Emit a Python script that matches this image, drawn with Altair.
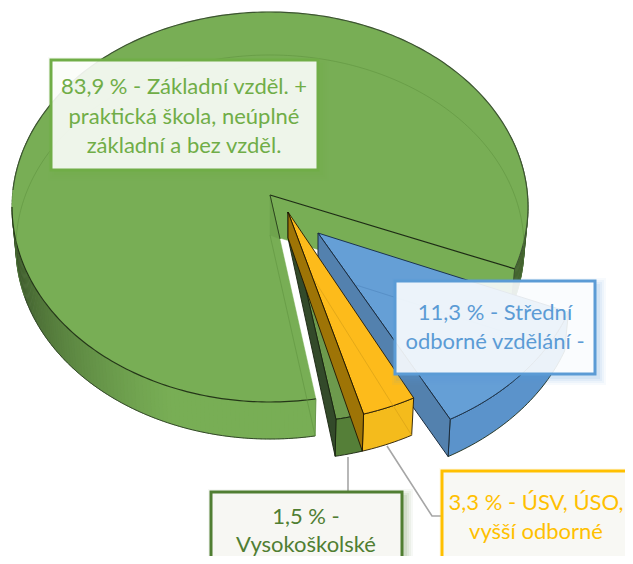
import math
import altair as alt
import pandas as pd

# --- chart values ---
categories = ["Střední odborné", "ÚSV, ÚSO, vyšší odborné", "Vysokoškolské", "Základní a nižší"]
shares = [11.3, 3.3, 1.5, 83.9]
box_labels = [
    ["11,3 % - Střední", "odborné vzdělání -"],
    ["3,3 % - ÚSV, ÚSO,", "vyšší odborné"],
    ["1,5 % -", "Vysokoškolské"],
    ["83,9 % - Základní vzděl. +", "praktická škola, neúplné", "základní a bez vzděl."],
]

# --- drawing set-up: the pie is a tilted, exploded disc ---
START = 19.5
RX, RY = 258, 195
BOT_RX, BOT_RY, DEPTH = 254, 192, 40
slice_geo = {  # ellipse centre, apex, radius factor, apex depth, angular trim
    "Střední odborné": dict(c=(318, 245), a=(318, 233), r=1.03, ad=40, trim=(0, 0)),
    "ÚSV, ÚSO, vyšší odborné": dict(c=(286, 224), a=(288, 212), r=1.02, ad=26, trim=(0.8, 0.8)),
    "Vysokoškolské": dict(c=(286, 224), a=(288, 212), r=1.02, ad=26, trim=(0.8, 1.6)),
    "Základní a nižší": dict(c=(270, 207), a=(270, 195), r=1.0, ad=40, trim=(2.3, -1)),
}

polys = []


def add(points, fill, stroke, width=1.0, opacity=1.0, closed=True):
    pid = len(polys)
    pts = list(points) + ([points[0]] if closed else [])
    polys.append((pid, pts, fill, stroke, width, opacity))


def top(g, t):
    r = math.radians(t)
    return (g["c"][0] + RX * g["r"] * math.cos(r), g["c"][1] + RY * g["r"] * math.sin(r))


def bot(g, t):
    r = math.radians(t)
    return (g["c"][0] + BOT_RX * g["r"] * math.cos(r), g["c"][1] + DEPTH + BOT_RY * g["r"] * math.sin(r))


def arc(fn, g, t0, t1, step=1.0):
    n = max(2, int(abs(t1 - t0) / step))
    return [fn(g, t0 + (t1 - t0) * i / n) for i in range(n + 1)]


def mix(c1, c2, f):
    a = [int(c1[i:i + 2], 16) for i in (1, 3, 5)]
    b = [int(c2[i:i + 2], 16) for i in (1, 3, 5)]
    return "#" + "".join(f"{round(x + (y - x) * f):02x}" for x, y in zip(a, b))


angles = {}
t = START
for name, s in zip(categories, shares):
    g = slice_geo[name]
    angles[name] = (t + g["trim"][0], t + s * 3.6 + g["trim"][1])
    t += s * 3.6

EDGE = "#1c2a14"

# green slice (rear-most)
g = slice_geo["Základní a nižší"]
t0, t1 = angles["Základní a nižší"]
te = t1 - 360
a = g["a"]
a_low = (a[0], a[1] + g["ad"])
# inner cut wall that faces the viewer
add([a, top(g, te), bot(g, te), a_low], "#78ae55", "#78ae55", 0.5)
# outer wall: left/front part, graded
for k in range(0, 125):
    u0 = t0 + k
    u1 = u0 + 1.4
    f = max(0.0, min(1.0, (u0 - 112) / 60))
    col = mix("#78ae55", "#3c582b", f ** 1.1)
    add([top(g, u0), top(g, u1), bot(g, u1), bot(g, u0)], col, col, 0.4)
# outer wall: right part
for k in range(0, 40):
    u0 = te - 40 + k
    u1 = min(u0 + 1.4, te)
    col = mix("#33492a", "#46682f", k / 40)
    add([top(g, u0), top(g, u1), bot(g, u1), bot(g, u0)], col, col, 0.4)
add(arc(bot, g, t0, 205), "none", "#33472a", 1.0, 1.0, closed=False)
add(arc(bot, g, te - 30, te), "none", "#33472a", 1.0, 1.0, closed=False)
# top face
add([a] + arc(top, g, t0, t1), "#78ae55", "#78ae55", 0.5)
add(arc(top, g, 185, t1), "none", "#3d5432", 1.2, 1.0, closed=False)
add(arc(top, g, t0, 180), "none", "#243618", 1.2, 1.0, closed=False)
add([top(g, te), a], "none", EDGE, 1.2, 1.0, closed=False)
add([a, (a[0] + 10, a[1] + 44)], "none", EDGE, 1.0, 1.0, closed=False)
add([top(g, te), bot(g, te)], "none", "#33472a", 0.8, 1.0, closed=False)
add([top(g, t0), bot(g, t0)], "none", "#5c8a3f", 0.8, 1.0, closed=False)
# bottom face seen through the translucent top
add(arc(bot, g, 165, 378), "none", "#5f9440", 0.8, 0.75, closed=False)
add([a_low, bot(g, t0)], "none", "#5f9440", 0.8, 0.75, closed=False)
add([a, a_low, (a[0] + 10, a[1] + 44)], "#5f9440", "#5f9440", 0.5, 0.35)

# blue slice
g = slice_geo["Střední odborné"]
t0, t1 = angles["Střední odborné"]
a = g["a"]
a_low = (a[0], a[1] + g["ad"])
add(arc(bot, g, t0, t1) + arc(top, g, t1, t0), "#5b93cb", EDGE, 0.9)
add([a] + arc(top, g, t0, t1), "#659fd6", "#1c3350", 1.0)
add([a_low, bot(g, t0)], "none", "#4f86bd", 0.7, 0.9, closed=False)
add([a, a_low, bot(g, t1), top(g, t1)], "#5381ae", "#1b2c3e", 1.0)

# dark green sliver
g = slice_geo["Vysokoškolské"]
t0, t1 = angles["Vysokoškolské"]
a = g["a"]
a_low = (a[0], a[1] + g["ad"])
add([a] + arc(top, g, t0, t1), "#6d9a4d", "#17220f", 0.9)
add(arc(top, g, t0, t1) + arc(bot, g, t1, t0), "#557f38", "#17220f", 0.9)
add([a, a_low, bot(g, t1), top(g, t1)], "#334a2a", "#17220f", 0.9)

# yellow slice
g = slice_geo["ÚSV, ÚSO, vyšší odborné"]
t0, t1 = angles["ÚSV, ÚSO, vyšší odborné"]
a = g["a"]
a_low = (a[0], a[1] + g["ad"])
add(arc(top, g, t0, t1) + arc(bot, g, t1, t0), "#f4bb1c", "#231a06", 0.9)
add([a] + arc(top, g, t0, t1), "#fdbb1b", "#231a06", 0.9)
add([a_low, bot(g, t0)], "none", "#d9a118", 0.8, 0.9, closed=False)
add([a, a_low, bot(g, t1), top(g, t1)], "#9e7406", "#1d1503", 0.9)

rows = []
for pid, pts, fill, stroke, width, opacity in polys:
    for i, (x, y) in enumerate(pts):
        rows.append(dict(pid=pid, i=i, x=x, y=y, f=fill, s=stroke, w=width, o=opacity))
df = pd.DataFrame(rows)

XS = alt.Scale(domain=[8, 625], nice=False, zero=False)
YS = alt.Scale(domain=[556, 8], nice=False, zero=False)
X = alt.X("x:Q", axis=None, scale=XS)
Y = alt.Y("y:Q", axis=None, scale=YS)

pie = alt.Chart(df).mark_line(clip=True, filled=True, strokeJoin="round", interpolate="linear").encode(
    x=X, y=Y,
    detail="pid:O",
    order="i:Q",
    fill=alt.Fill("f:N", scale=None),
    stroke=alt.Stroke("s:N", scale=None),
    strokeWidth=alt.StrokeWidth("w:Q", scale=None),
    opacity=alt.Opacity("o:Q", scale=None),
)

# leader lines
leaders = pd.DataFrame({
    "pid": [0, 0, 1, 1, 1],
    "i": [0, 1, 0, 1, 2],
    "x": [348, 348, 387, 432, 442],
    "y": [457, 492, 446, 516, 516],
})
leader = alt.Chart(leaders).mark_line(color="#a6a6a6", strokeWidth=1.6, clip=True).encode(
    x=X, y=Y, detail="pid:O", order="i:Q")

# label boxes
boxes = pd.DataFrame({
    "cat": categories,
    "x0": [395, 442, 211, 51],
    "x1": [595, 660, 402, 318],
    "y0": [281, 471, 492, 60],
    "y1": [374, 600, 600, 170],
    "border": ["#5b9bd5", "#ffc000", "#507e32", "#70ad47"],
    "bg": ["#ffffff", "#f8f8f4", "#f7f7f3", "#ffffff"],
    "alpha": [0.88, 1.0, 1.0, 0.88],
})
shadow_layers = []
for grow, op in [(7, 0.05), (5, 0.06), (3, 0.08), (1, 0.10)]:
    sb = boxes.assign(x0=boxes.x0 + 4 - grow, x1=boxes.x1 + 4 + grow, y0=boxes.y0 + 4 - grow, y1=boxes.y1 + 4 + grow)
    shadow_layers.append(
        alt.Chart(sb).mark_rect(clip=True, opacity=op).encode(
            x=alt.X("x0:Q", axis=None, scale=XS), x2="x1:Q",
            y=alt.Y("y0:Q", axis=None, scale=YS), y2="y1:Q",
            fill=alt.Fill("border:N", scale=None))
    )
box = alt.Chart(boxes).mark_rect(clip=True, strokeWidth=3).encode(
    x=alt.X("x0:Q", axis=None, scale=XS), x2="x1:Q",
    y=alt.Y("y0:Q", axis=None, scale=YS), y2="y1:Q",
    fill=alt.Fill("bg:N", scale=None),
    fillOpacity=alt.FillOpacity("alpha:Q", scale=None),
    stroke=alt.Stroke("border:N", scale=None),
)

# label text
tx = {"Střední odborné": (495, [313, 342]), "ÚSV, ÚSO, vyšší odborné": (536, [503, 532]),
      "Vysokoškolské": (306, [517, 545]), "Základní a nižší": (184, [87, 117, 146])}
txt_col = {"Střední odborné": "#5b9bd5", "ÚSV, ÚSO, vyšší odborné": "#ffc000",
           "Vysokoškolské": "#507e32", "Základní a nižší": "#70ad47"}
trows = []
for c, lines in zip(categories, box_labels):
    for line, yy in zip(lines, tx[c][1]):
        trows.append(dict(t=line, x=tx[c][0], y=yy, c=txt_col[c]))
text = alt.Chart(pd.DataFrame(trows)).mark_text(font="Lato", fontSize=22, align="center", baseline="middle", clip=True).encode(
    x=alt.X("x:Q", axis=None, scale=XS), y=alt.Y("y:Q", axis=None, scale=YS),
    text="t:N", color=alt.Color("c:N", scale=None))

chart = alt.layer(pie, leader, *shadow_layers, box, text).properties(
    width=617, height=548, padding=0, autosize=alt.AutoSizeParams(type="none"),
).configure_view(stroke=None)

chart.save("out.html", embed_options={"renderer": "svg", "actions": False})
